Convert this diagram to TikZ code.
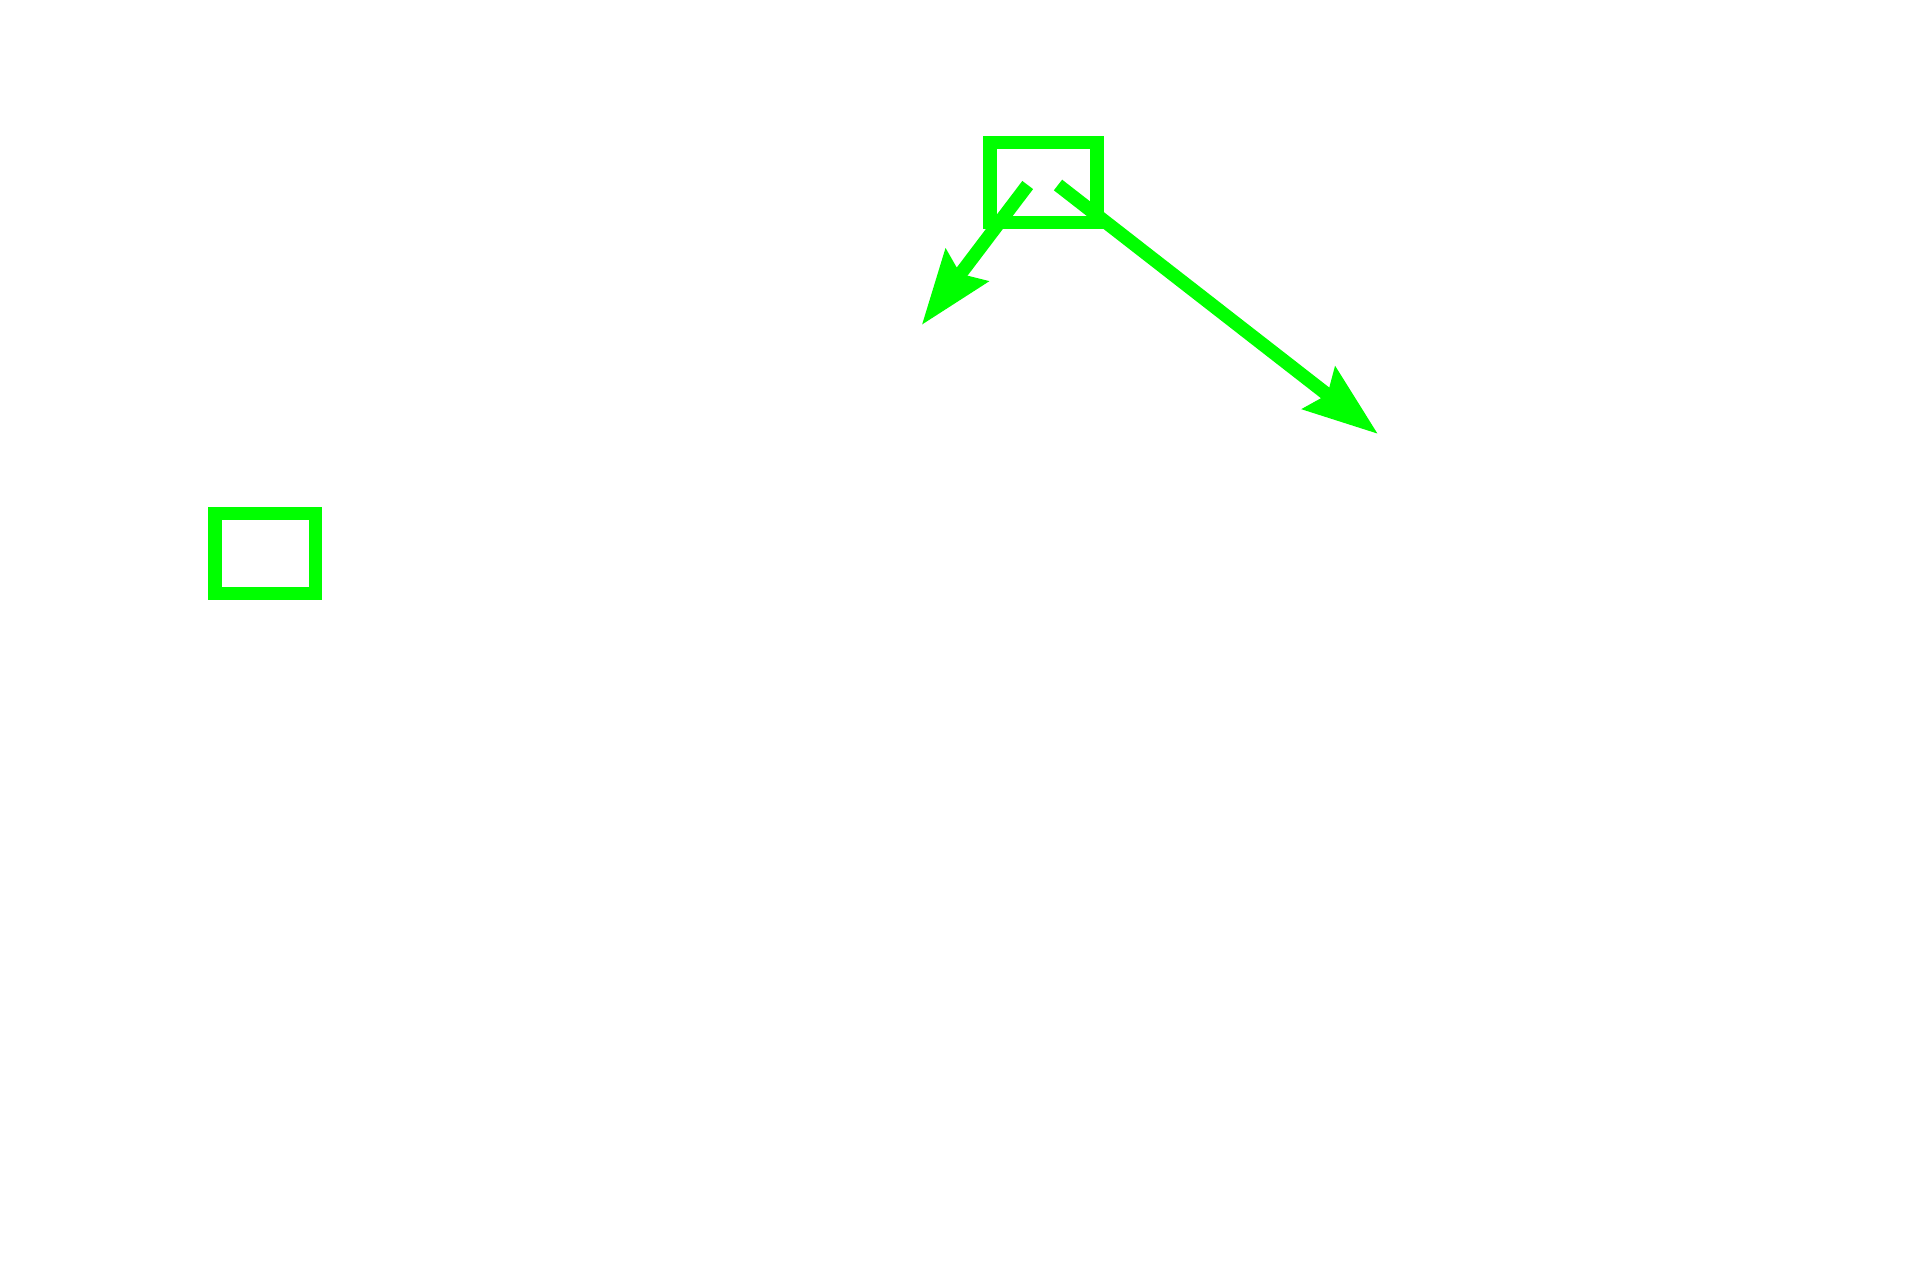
\documentclass[tikz,border=0pt]{standalone}
\usetikzlibrary{arrows.meta}
\definecolor{brightgreen}{RGB}{0,255,0}
\tikzset{
  gbox/.style={draw=brightgreen, line width=13.5pt, minimum width=107pt, minimum height=80pt, inner sep=0pt, fill=none},
  garrow/.style={draw=brightgreen, line width=13.5pt, line cap=butt,
    -{Stealth[length=74pt, width=52pt, inset=10pt, fill=brightgreen]}}
}
\begin{document}
\begin{tikzpicture}[x=1pt, y=-1pt]
  \useasboundingbox (0,0) rectangle (1920,1280);
  \node[gbox] (boxA) at (1043.5,182.5) {};
  \node[gbox, minimum width=100.5pt] (boxB) at (265,553.5) {};
  \coordinate (startA) at (1027.7,185);
  \coordinate (tipA) at (921.7,325);
  \coordinate (startB) at (1058,185);
  \coordinate (tipB) at (1378,434);
  \draw[garrow] (startA) -- (tipA);
  \draw[garrow] (startB) -- (tipB);
\end{tikzpicture}
\end{document}
